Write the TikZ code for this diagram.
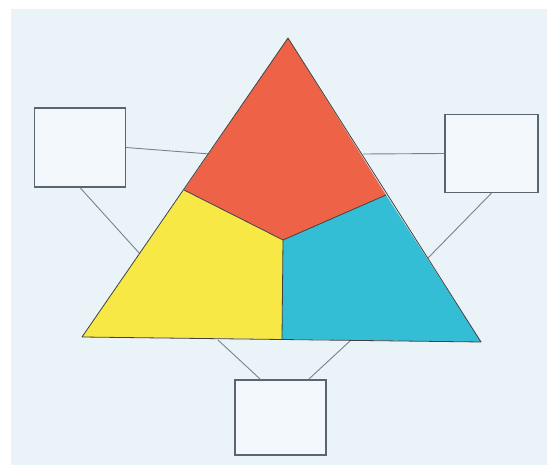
\documentclass[tikz,border=0pt]{standalone}
\usepackage{tikz}
\usetikzlibrary{positioning,calc}
\definecolor{tpaper}{HTML}{EAF3F8}
\definecolor{tred}{HTML}{EE6348}
\definecolor{tyellow}{HTML}{F7E846}
\definecolor{tcyan}{HTML}{34BED6}
\definecolor{tline}{HTML}{5C6470}
\definecolor{tlink}{HTML}{7A828C}
\tikzset{
 emptybox/.style={draw=tline, line width=1.2pt, fill=tpaper!60!white, inner sep=0pt},
 link/.style={draw=tlink, line width=0.9pt},
 part/.style={draw=black!75, line width=0.8pt, line join=round}
}
\begin{document}
\begin{tikzpicture}[x=1pt,y=-1pt]
 \useasboundingbox (0,0) rectangle (547,465);
 \fill[white] (0,0) rectangle (547,465);
 \fill[tpaper] (11,9) rectangle (547,465);
 % corners of the triangle and the inner split
 \coordinate (apex) at (288,38);
 \coordinate (bl) at (82,337);
 \coordinate (br) at (481,342);
 \coordinate (ls) at (184,190);
 \coordinate (rs) at (386,195);
 \coordinate (mid) at (283,240);
 \coordinate (bm) at (282,339);
 % where the links meet the triangle
 \coordinate (l1) at (210,154);
 \coordinate (l2) at (140,254);
 \coordinate (r1) at (363,154);
 \coordinate (r2) at (428,258);
 \coordinate (b1) at (218,340);
 \coordinate (b2) at (350,341);
 % the three boxes
 \node[emptybox, minimum width=91pt, minimum height=79pt] (lbox) at (80,147.5) {};
 \node[emptybox, minimum width=93pt, minimum height=78pt] (rbox) at (491.5,153.5) {};
 \node[emptybox, minimum width=91pt, minimum height=75pt] (bbox) at (280.5,417.5) {};
 \draw[link] (lbox.east) -- (l1);
 \draw[link] (lbox.south) -- (l2);
 \draw[link] (rbox.west) -- (r1);
 \draw[link] (rbox.south) -- (r2);
 \draw[link] ([xshift=-20pt]bbox.north) -- (b1);
 \draw[link] ([xshift=28pt]bbox.north) -- (b2);
 % coloured parts
 \fill[tred] (apex) -- (rs) -- (mid) -- (ls) -- cycle;
 \fill[tyellow] (ls) -- (mid) -- (bm) -- (bl) -- cycle;
 \fill[tcyan] (mid) -- (rs) -- (br) -- (bm) -- cycle;
 \draw[part] (ls) -- (mid) -- (rs) (mid) -- (bm);
 \draw[part] (apex) -- (br) -- (bl) -- cycle;
\end{tikzpicture}
\end{document}
